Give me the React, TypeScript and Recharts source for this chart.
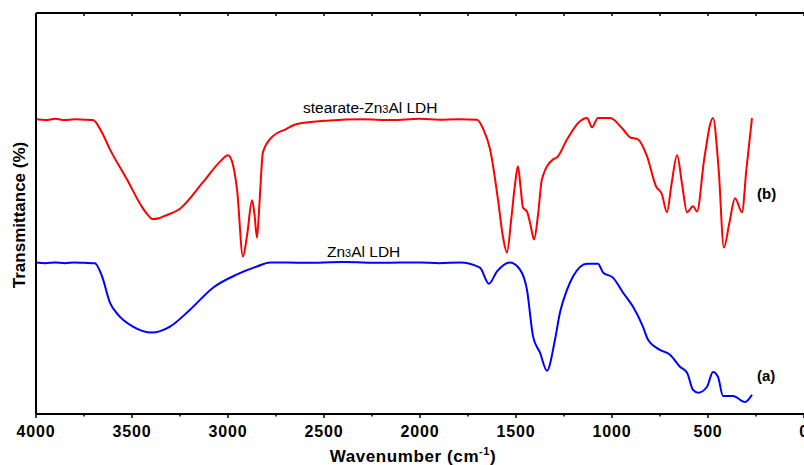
import React from 'react';
import { LineChart, Line, XAxis, YAxis, Label, Customized } from 'recharts';

// Wavenumber (cm-1) and relative transmittance (arbitrary units)
const stearateWn = [4000, 3950, 3900, 3850, 3800, 3750, 3703, 3660, 3615, 3526, 3450, 3420, 3391, 3360, 3330, 3250, 3130, 3040, 3000, 2975, 2953, 2922, 2900, 2875, 2862, 2849, 2835, 2818, 2766, 2700, 2641, 2469, 2300, 2150, 2000, 1900, 1800, 1703, 1670, 1635, 1594, 1570, 1547, 1525, 1505, 1490, 1475, 1464, 1443, 1425, 1406, 1385, 1365, 1307, 1286, 1234, 1167, 1130, 1104, 1073, 1010, 943, 906, 865, 818, 771, 740, 714, 690, 661, 635, 609, 578, 557, 520, 474, 445, 417, 390, 359, 323, 300, 271];
const stearateT = [73.5, 73.3, 73.6, 73.3, 73.5, 73.4, 73.3, 70.5, 66, 58.5, 51.8, 49.8, 48.6, 48.8, 49.4, 51.2, 57.8, 63, 64.5, 62.3, 56, 39.3, 44.8, 53.3, 49.8, 44, 53.5, 65.3, 69.3, 71, 72.3, 73.2, 73.5, 73.3, 73.6, 73.4, 73.5, 73.4, 71, 66, 53.5, 44.8, 40.3, 48.5, 57.3, 61.8, 56, 51.5, 50.5, 47.3, 43.5, 49.8, 58.5, 63.5, 64, 68.5, 73, 73.8, 71.5, 73.8, 73.8, 71, 69, 68.5, 64.3, 56.8, 54.8, 50.3, 57.3, 64.5, 57.3, 50.3, 51.8, 50.5, 63.5, 73.8, 61.3, 41.5, 47.3, 53.8, 50.3, 61, 73.8];

const ldhWn = [4000, 3950, 3900, 3850, 3800, 3750, 3693, 3656, 3615, 3573, 3495, 3396, 3302, 3198, 3078, 2953, 2849, 2781, 2600, 2400, 2200, 2000, 1900, 1792, 1688, 1641, 1600, 1531, 1479, 1443, 1411, 1375, 1339, 1297, 1271, 1234, 1203, 1130, 1073, 1047, 995, 943, 891, 839, 812, 750, 698, 646, 609, 578, 552, 505, 474, 448, 422, 370, 307, 271];
const ldhT = [37.8, 37.6, 37.8, 37.6, 37.8, 37.7, 37.6, 34.3, 27.8, 24.8, 21.8, 20.3, 21.8, 26, 31.5, 34.8, 36.8, 37.8, 37.7, 37.9, 37.7, 37.8, 37.6, 37.8, 36.5, 32.5, 35.5, 37.8, 36, 31, 19.3, 15.3, 10.8, 18.5, 25.3, 31, 34.3, 37.5, 37.5, 35.3, 34, 30.3, 26.8, 21.8, 18.5, 16, 14.8, 11.8, 10.3, 6, 5.3, 6.8, 10.5, 9.3, 4.5, 4.5, 3, 4.8];

const axisTicks = [0, 250, 500, 750, 1000, 1250, 1500, 1750, 2000, 2250, 2500, 2750, 3000, 3250, 3500, 3750, 4000];
const xTitle = 'Wavenumber (cm';
const yTitle = 'Transmittance (%)';

const stearateData = stearateWn.map((wn, i) => ({ wn, t: stearateT[i] }));
const ldhData = ldhWn.map((wn, i) => ({ wn, t: ldhT[i] }));

const FONT = '"Liberation Sans", Arial, sans-serif';

const BottomTick = (props: any) => {
  const { x, y, payload } = props;
  const major = payload.value % 500 === 0;
  return (
    <g>
      <line x1={x} x2={x} y1={y} y2={y + (major ? 4 : 2.5)} stroke="#000" strokeWidth={1.5} />
      {major && (
        <text x={x} y={y + 23} textAnchor="middle" fontFamily={FONT} fontWeight="bold" fontSize={16} letterSpacing={0.8} fill="#000">
          {payload.value}
        </text>
      )}
    </g>
  );
};

const Annotations = () => (
  <g fontFamily={FONT}>
    <text x={303} y={113} fontSize={15.5} fill="#000">
      stearate-Zn<tspan fontSize={11}>3</tspan>Al LDH
    </text>
    <text x={327} y={257} fontSize={15.5} fill="#000">
      Zn<tspan fontSize={11}>3</tspan>Al LDH
    </text>
    <text x={757} y={199} fontSize={15} fontWeight="bold" fill="#000">(b)</text>
    <text x={757} y={381} fontSize={15} fontWeight="bold" fill="#000">(a)</text>
  </g>
);

export default function App() {
  return (
    <div style={{ position: 'absolute', left: 0, top: 0, background: '#fff' }}>
      <LineChart width={804} height={465} margin={{ top: 13, right: 0, bottom: 0, left: 35 }}>
        <XAxis
          xAxisId="b"
          type="number"
          dataKey="wn"
          domain={[0, 4000]}
          reversed
          allowDataOverflow
          ticks={axisTicks}
          interval={0}
          height={51}
          tickSize={0}
          tickMargin={0}
          tickLine={false}
          tick={<BottomTick />}
          axisLine={{ stroke: '#000', strokeWidth: 2 }}
        >
          <Label
            content={() => (
              <text x={413} y={462} textAnchor="middle" fontFamily={FONT} fontWeight="bold" fontSize={17} letterSpacing={0.6} fill="#000">
                {xTitle}
                <tspan fontSize={11} dy={-7}>-1</tspan>
                <tspan dy={7}>)</tspan>
              </text>
            )}
          />
        </XAxis>
        <XAxis
          xAxisId="t"
          orientation="top"
          type="number"
          dataKey="wn"
          domain={[0, 4000]}
          reversed
          allowDataOverflow
          ticks={axisTicks}
          interval={0}
          height={1}
          mirror
          tickSize={3}
          tickFormatter={() => ''}
          tickLine={{ stroke: '#000', strokeWidth: 1.5 }}
          axisLine={{ stroke: '#000', strokeWidth: 2 }}
        />
        <YAxis
          yAxisId="l"
          type="number"
          domain={[0, 100]}
          width={1}
          tick={false}
          tickLine={false}
          axisLine={{ stroke: '#000', strokeWidth: 2 }}
        >
          <Label
            content={() => (
              <text x={25} y={215} transform="rotate(-90 25 215)" textAnchor="middle" fontFamily={FONT} fontWeight="bold" fontSize={17} fill="#000">
                {yTitle}
              </text>
            )}
          />
        </YAxis>
        <Line
          xAxisId="b"
          yAxisId="l"
          data={stearateData}
          dataKey="t"
          type="monotone"
          stroke="#ff0000"
          strokeWidth={2}
          dot={false}
          activeDot={false}
          isAnimationActive={false}
        />
        <Line
          xAxisId="b"
          yAxisId="l"
          data={ldhData}
          dataKey="t"
          type="monotone"
          stroke="#0000ff"
          strokeWidth={2}
          dot={false}
          activeDot={false}
          isAnimationActive={false}
        />
        <Customized component={Annotations} />
      </LineChart>
    </div>
  );
}
